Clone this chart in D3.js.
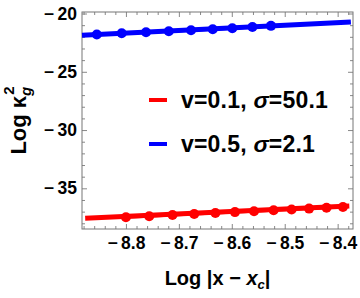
<!DOCTYPE html>
<html>
<head>
<meta charset="utf-8">
<script src="https://cdn.jsdelivr.net/npm/d3@7"></script>
<style>
  body { margin: 0; background: #fff; }
  text { font-family: "Liberation Sans", Arial, sans-serif; font-weight: bold; }
</style>
</head>
<body>
<svg id="chart"></svg>
<script>
// data
let redX = [-8.800, -8.756, -8.712, -8.671, -8.631, -8.594, -8.558, -8.521, -8.487, -8.454, -8.421, -8.390];
let redY = [-37.48, -37.39, -37.29, -37.20, -37.12, -37.04, -36.96, -36.88, -36.81, -36.74, -36.67, -36.60];
let redFitX = [-8.877, -8.378];
let redFitY = [-37.57, -36.51];

let blueX = [-8.855, -8.808, -8.762, -8.719, -8.677, -8.636, -8.599, -8.561, -8.526];
let blueY = [-21.80, -21.69, -21.60, -21.52, -21.43, -21.35, -21.26, -21.15, -21.06];
let blueFitX = [-8.883, -8.375];
let blueFitY = [-21.86, -20.72];

let xMajor = [-8.8, -8.7, -8.6, -8.5, -8.4];
let yMajor = [-35, -30, -25, -20];

let legendNames = [["v=0.1, ", "σ", "=50.1"], ["v=0.5, ", "σ", "=2.1"]];
let colors = ["#ff0000", "#0000ff"];

let W = 360, H = 298;
let margin = {top: 12, right: 7, bottom: 69, left: 82};

let svg = d3.select("#chart").attr("width", W).attr("height", H);

let x = d3.scaleLinear().domain([-8.883, -8.371]).range([margin.left, W - margin.right]);
let y = d3.scaleLinear().domain([-38.49, -19.87]).range([H - margin.bottom, margin.top]);

let xMinor = d3.range(-8.88, -8.37, 0.02).map(d => +d.toFixed(2)).filter(d => Math.abs(d * 10 - Math.round(d * 10)) > 1e-6);
let yMinor = d3.range(-38, -19, 1).filter(d => d % 5 !== 0);

// mathematica puts a wide minus in front of the numbers
function minusFmt(digits) {
    return function (d) {
        return (d < 0 ? "\u2212\u2009" : "") + Math.abs(d).toFixed(digits);
    };
}

function styleAxis(g) {
    g.select(".domain").remove();
    g.selectAll(".tick line").attr("stroke", "#888");
    g.selectAll(".tick text").attr("fill", "#000").style("font-size", "17.5px");
}

// frame ticks, inside, all four sides
svg.append("g").attr("transform", "translate(0," + (H - margin.bottom) + ")")
    .call(d3.axisBottom(x).tickValues(xMajor).tickSize(-5).tickPadding(8).tickFormat(minusFmt(1)))
    .call(styleAxis);
svg.append("g").attr("transform", "translate(0," + (H - margin.bottom) + ")")
    .call(d3.axisBottom(x).tickValues(xMinor).tickSize(-3).tickFormat(""))
    .call(styleAxis);
svg.append("g").attr("transform", "translate(0," + margin.top + ")")
    .call(d3.axisTop(x).tickValues(xMajor).tickSize(-5).tickFormat(""))
    .call(styleAxis);
svg.append("g").attr("transform", "translate(0," + margin.top + ")")
    .call(d3.axisTop(x).tickValues(xMinor).tickSize(-3).tickFormat(""))
    .call(styleAxis);

svg.append("g").attr("transform", "translate(" + margin.left + ",0)")
    .call(d3.axisLeft(y).tickValues(yMajor).tickSize(-5).tickPadding(5).tickFormat(minusFmt(0)))
    .call(styleAxis);
svg.append("g").attr("transform", "translate(" + margin.left + ",0)")
    .call(d3.axisLeft(y).tickValues(yMinor).tickSize(-3).tickFormat(""))
    .call(styleAxis);
svg.append("g").attr("transform", "translate(" + (W - margin.right) + ",0)")
    .call(d3.axisRight(y).tickValues(yMajor).tickSize(-5).tickFormat(""))
    .call(styleAxis);
svg.append("g").attr("transform", "translate(" + (W - margin.right) + ",0)")
    .call(d3.axisRight(y).tickValues(yMinor).tickSize(-3).tickFormat(""))
    .call(styleAxis);

svg.append("rect")
    .attr("x", margin.left).attr("y", margin.top)
    .attr("width", W - margin.left - margin.right)
    .attr("height", H - margin.top - margin.bottom)
    .attr("fill", "none").attr("stroke", "#777").attr("stroke-width", 1);

let line = d3.line().x(d => x(d[0])).y(d => y(d[1]));

let series = [
    {xs: redX, ys: redY, fx: redFitX, fy: redFitY, color: colors[0]},
    {xs: blueX, ys: blueY, fx: blueFitX, fy: blueFitY, color: colors[1]}
];

series.forEach(function (s) {
    svg.append("path")
        .datum(d3.zip(s.fx, s.fy))
        .attr("d", line)
        .attr("fill", "none")
        .attr("stroke", s.color)
        .attr("stroke-width", 5);
    svg.append("path")
        .datum(d3.zip(s.xs, s.ys))
        .attr("d", line)
        .attr("fill", "none")
        .attr("stroke", s.color)
        .attr("stroke-width", 3);
    svg.selectAll(null)
        .data(d3.zip(s.xs, s.ys))
        .enter().append("circle")
        .attr("cx", d => x(d[0]))
        .attr("cy", d => y(d[1]))
        .attr("r", 5)
        .attr("fill", s.color);
});

// legend
let legendY = [100, 144];
legendNames.forEach(function (parts, i) {
    svg.append("line")
        .attr("x1", 149).attr("x2", 167)
        .attr("y1", legendY[i]).attr("y2", legendY[i])
        .attr("stroke", colors[i]).attr("stroke-width", 4);
    let t = svg.append("text")
        .attr("x", 181).attr("y", legendY[i] + 8)
        .style("font-size", "23px")
        .style("letter-spacing", "0.2px");
    t.append("tspan").text(parts[0]);
    t.append("tspan").style("font-style", "italic").text(parts[1]);
    t.append("tspan").text(parts[2]);
});

// axis titles
let xt = svg.append("text")
    .attr("x", (margin.left + W - margin.right) / 2)
    .attr("y", 285)
    .attr("text-anchor", "middle")
    .style("font-size", "20px");
xt.append("tspan").text("Log |x \u2212 ");
xt.append("tspan").style("font-style", "italic").text("x");
xt.append("tspan").attr("dy", 4).style("font-size", "13px").style("font-style", "italic").text("c");
xt.append("tspan").attr("dy", -4).text("|");

let yt = svg.append("text")
    .attr("transform", "translate(26," + ((margin.top + H - margin.bottom) / 2) + ") rotate(-90)")
    .attr("text-anchor", "middle")
    .style("font-size", "22px");
yt.append("tspan").text("Log \u03ba");
yt.append("tspan").attr("dy", 5).style("font-size", "15px").style("font-style", "italic").text("g");
yt.append("tspan").attr("dx", -8).attr("dy", -17).style("font-size", "15px").text("2");
</script>
</body>
</html>
